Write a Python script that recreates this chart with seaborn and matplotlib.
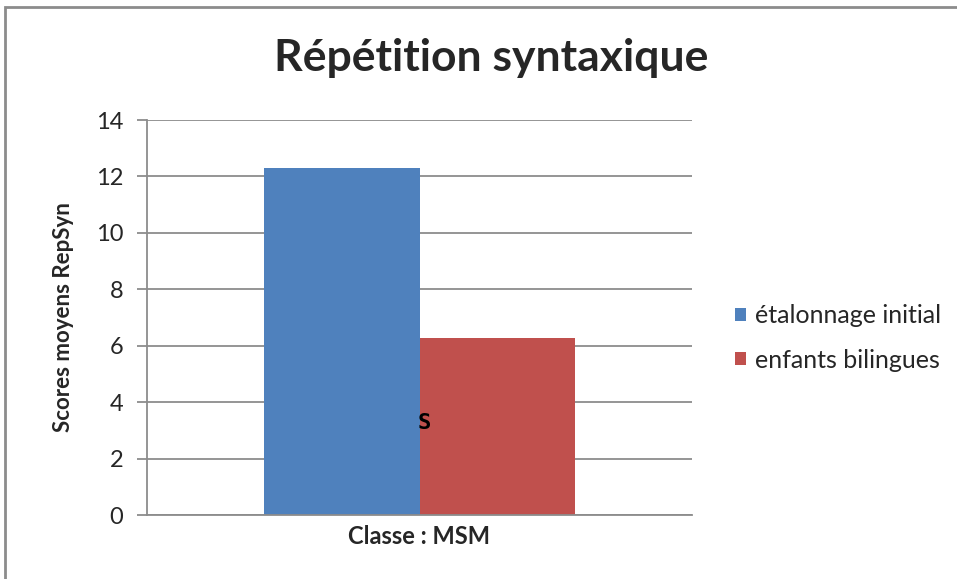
import matplotlib
matplotlib.use("Agg")
import matplotlib.pyplot as plt
import seaborn as sns
import pandas as pd
from matplotlib.patches import Rectangle

# data
classes = ["Classe : MSM"]
groups = ["étalonnage initial", "enfants bilingues"]
scores = [12.3, 6.27]
colors = ["#4F81BD", "#C0504D"]
y_ticks = [0, 2, 4, 6, 8, 10, 12, 14]

df = pd.DataFrame({
    "classe": classes * len(groups),
    "groupe": groups,
    "score": scores,
})

sns.set_theme(style="white")
plt.rcParams["font.family"] = ["Lato", "DejaVu Sans"]

fig = plt.figure(figsize=(9.57, 5.79), dpi=100)
ax = fig.add_axes([147 / 957, 64 / 579, 545 / 957, 395 / 579])

sns.barplot(data=df, x="classe", y="score", hue="groupe",
            palette=colors, width=0.572, gap=0, saturation=1,
            edgecolor="none", linewidth=0, ax=ax)

ax.set_ylim(0, 14)
ax.set_xlim(-0.5, 0.5)
ax.set_yticks(y_ticks)
ax.yaxis.grid(True, color="#8C8C8C", linewidth=1.3)
ax.set_axisbelow(True)
for side in ["top", "right"]:
    ax.spines[side].set_visible(False)
for side in ["left", "bottom"]:
    ax.spines[side].set_color("#8C8C8C")
    ax.spines[side].set_linewidth(1.3)
ax.tick_params(axis="y", which="major", left=True, length=7, width=1.3,
               color="#8C8C8C", labelsize=17, pad=10)
ax.tick_params(axis="x", bottom=False, labelbottom=False)

ax.set_ylabel("Scores moyens RepSyn", fontsize=16, fontweight="bold", labelpad=16)
ax.set_xlabel("")
ax.text(0.5, -0.055, "Classe : MSM", transform=ax.transAxes, ha="center",
        va="center", fontsize=17, fontweight="bold")

# stray glyph on the red bar
ax.text(0.008, 3.26, "S", ha="center", va="center", fontsize=16,
        fontweight="bold", family="DejaVu Sans Mono", color="black")

fig.text(491 / 957, 1 - 58 / 579, "Répétition syntaxique", ha="center",
         va="center", fontsize=32, fontweight="bold")

leg = ax.legend(loc="center left", bbox_to_anchor=(735 / 957, 1 - 338 / 579),
                bbox_transform=fig.transFigure, frameon=False,
                fontsize=18, handlelength=0.45, handleheight=0.45,
                handletextpad=0.35, labelspacing=0.85,
                borderpad=0, borderaxespad=0)

# chart outer border
fig.patches.append(Rectangle((5 / 957, -0.05), 1.1, 1 - 7 / 579 + 0.05,
                             transform=fig.transFigure, fill=False,
                             edgecolor="#8C8C8C", linewidth=2))

fig.savefig("out.png", dpi=100)
